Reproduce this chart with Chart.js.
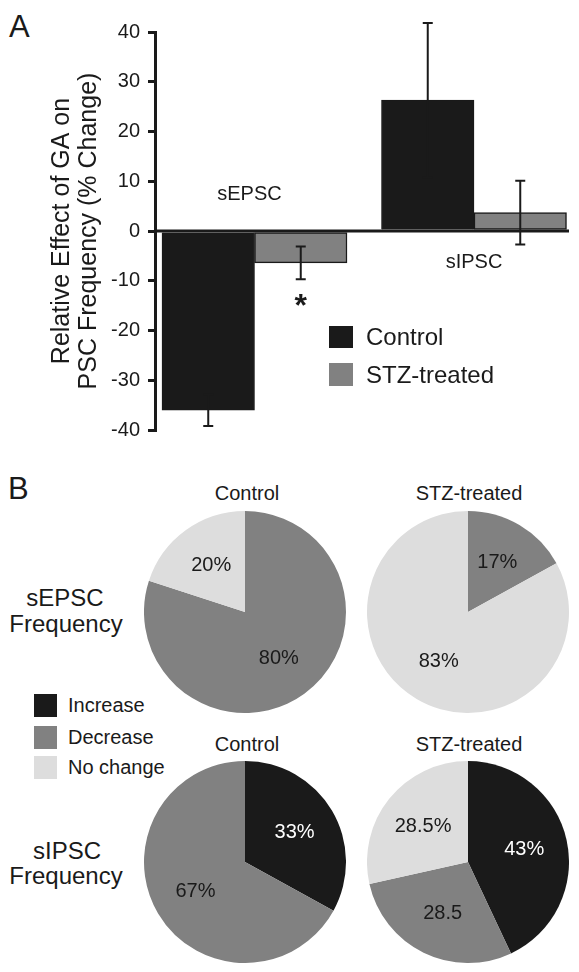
<!DOCTYPE html>
<html>
<head>
<meta charset="utf-8">
<script src="https://cdn.jsdelivr.net/npm/chart.js@4.4.1/dist/chart.umd.min.js"></script>
<style>
  body { margin: 0; background: #fff; }
  #fig { position: relative; width: 579px; height: 972px; overflow: hidden;
         font-family: 'Liberation Sans', Arial, sans-serif; color: #1a1a1a; }
  canvas { position: absolute; }
  /* t = centred on a point, l = left edge + vertical centre */
  .t { position: absolute; line-height: 1; white-space: nowrap; transform: translate(-50%, -50%); }
  .l { position: absolute; line-height: 1; white-space: nowrap; transform: translateY(-50%); }
  .sw { position: absolute; }
</style>
</head>
<body>
<div id="fig">
  <div class="l" style="left:9px; top:26px; font-size:31px;">A</div>
  <canvas id="bars" width="579" height="450" style="left:0; top:0;"></canvas>

  <!-- legend of panel A -->
  <div class="sw" style="left:329px; top:326px; width:24px; height:22px; background:#1a1a1a;"></div>
  <div class="l" style="left:366px; top:337px; font-size:24px;">Control</div>
  <div class="sw" style="left:329px; top:363px; width:24px; height:23px; background:#818181;"></div>
  <div class="l" style="left:366px; top:375px; font-size:24px;">STZ-treated</div>

  <div class="l" style="left:8px; top:488px; font-size:31px;">B</div>

  <div class="t" style="left:247px; top:493px; font-size:20px;">Control</div>
  <div class="t" style="left:469px; top:493px; font-size:20px;">STZ-treated</div>
  <div class="t" style="left:247px; top:744px; font-size:20px;">Control</div>
  <div class="t" style="left:469px; top:744px; font-size:20px;">STZ-treated</div>

  <div class="t" style="left:65px; top:598px; font-size:24px;">sEPSC</div>
  <div class="t" style="left:66px; top:624px; font-size:24px;">Frequency</div>
  <div class="t" style="left:67px; top:851px; font-size:24px;">sIPSC</div>
  <div class="t" style="left:66px; top:876px; font-size:24px;">Frequency</div>

  <!-- legend of panel B -->
  <div class="sw" style="left:34px; top:694px; width:23px; height:23px; background:#1a1a1a;"></div>
  <div class="l" style="left:68px; top:705px; font-size:20px;">Increase</div>
  <div class="sw" style="left:34px; top:726px; width:23px; height:23px; background:#818181;"></div>
  <div class="l" style="left:68px; top:737px; font-size:20px;">Decrease</div>
  <div class="sw" style="left:34px; top:756px; width:23px; height:23px; background:#dddddd;"></div>
  <div class="l" style="left:68px; top:767px; font-size:20px;">No change</div>

  <canvas id="pieEC" width="202" height="202" style="left:144px; top:511px;"></canvas>
  <canvas id="pieES" width="202" height="202" style="left:367px; top:511px;"></canvas>
  <canvas id="pieIC" width="202" height="202" style="left:144px; top:761px;"></canvas>
  <canvas id="pieIS" width="202" height="202" style="left:367px; top:761px;"></canvas>
</div>

<script>
// ---- panel A data ----
const categories = ['sEPSC', 'sIPSC'];
const controlValues = [-36, 26.3];
const controlErrors = [3.2, 15.5];
const stzValues = [-6.4, 3.7];
const stzErrors = [3.3, 6.4];
const stzMarks = ['*', ''];   // significance vs control

// ---- panel B data (order: Increase, Decrease, No change) ----
const pieSeries = ['Increase', 'Decrease', 'No change'];
const sEPSCControl = [0, 80, 20];
const sEPSCStz = [0, 17, 83];
const sIPSCControl = [33, 67, 0];
const sIPSCStz = [43, 28.5, 28.5];
const sEPSCControlText = ['', '80%', '20%'];
const sEPSCStzText = ['', '17%', '83%'];
const sIPSCControlText = ['33%', '67%', ''];
const sIPSCStzText = ['43%', '28.5', '28.5%'];

const INK = '#1a1a1a';
const GREY = '#818181';
const LIGHT = '#dddddd';
const FONT = "'Liberation Sans', Arial, sans-serif";

Chart.defaults.font.family = FONT;
Chart.defaults.color = INK;

// error bars, zero line and the text placed inside the plot
const barExtras = {
  id: 'barExtras',
  afterDatasetsDraw(chart) {
    const { ctx, chartArea } = chart;
    const y = chart.scales.y;
    ctx.save();

    // error bars
    ctx.strokeStyle = INK;
    ctx.lineWidth = 2;
    chart.data.datasets.forEach((ds, i) => {
      chart.getDatasetMeta(i).data.forEach((bar, j) => {
        const v = ds.data[j].y, e = ds.errors[j];
        const top = y.getPixelForValue(v + e);
        const bot = y.getPixelForValue(v - e);
        ctx.beginPath();
        ctx.moveTo(bar.x, top); ctx.lineTo(bar.x, bot);
        ctx.moveTo(bar.x - 5, top); ctx.lineTo(bar.x + 5, top);
        ctx.moveTo(bar.x - 5, bot); ctx.lineTo(bar.x + 5, bot);
        ctx.stroke();
      });
    });

    // zero line
    const zero = y.getPixelForValue(0);
    ctx.lineWidth = 3;
    ctx.beginPath();
    ctx.moveTo(chartArea.left, zero);
    ctx.lineTo(chartArea.right, zero);
    ctx.stroke();

    // category names: first above the zero line, second below it
    ctx.fillStyle = INK;
    ctx.font = '20px ' + FONT;
    ctx.textAlign = 'center';
    ctx.textBaseline = 'middle';
    const x = chart.scales.x;
    const offsets = [-37, 31];
    categories.forEach((c, i) => {
      const cx = x.getPixelForValue(i + 1) - (i === 0 ? 5 : 0);
      ctx.fillText(c, cx, zero + offsets[i]);
    });

    // significance marks under the STZ error bars
    ctx.font = 'bold 32px ' + FONT;
    ctx.textBaseline = 'alphabetic';
    const stzMeta = chart.getDatasetMeta(1);
    stzMarks.forEach((m, j) => {
      if (!m) return;
      const bot = y.getPixelForValue(stzValues[j] - stzErrors[j]);
      ctx.fillText(m, stzMeta.data[j].x, bot + 37);
    });
    ctx.restore();
  }
};

new Chart(document.getElementById('bars'), {
  type: 'bar',
  data: {
    datasets: [
      {
        label: 'Control',
        data: controlValues.map((v, i) => ({ x: i + 1, y: v })),
        errors: controlErrors,
        backgroundColor: INK,
        borderColor: INK,
        borderWidth: 1
      },
      {
        label: 'STZ-treated',
        data: stzValues.map((v, i) => ({ x: i + 1, y: v })),
        errors: stzErrors,
        backgroundColor: GREY,
        borderColor: INK,
        borderWidth: 1.5,
        borderSkipped: false
      }
    ]
  },
  options: {
    responsive: false,
    animation: false,
    barThickness: 92.5,
    layout: { padding: { top: 32, bottom: 15, left: 0, right: 10 } },
    plugins: { legend: { display: false }, tooltip: { enabled: false } },
    scales: {
      x: {
        type: 'linear',
        display: false,
        offset: false,
        grid: { offset: false },
        min: 0.5467,
        max: 2.4328,
        ticks: { stepSize: 1, includeBounds: false }
      },
      y: {
        min: -40,
        max: 40,
        ticks: { stepSize: 10, padding: 8, font: { size: 20 }, color: INK },
        grid: { drawOnChartArea: false, drawTicks: true, tickLength: 7, color: INK, lineWidth: 3 },
        border: { display: true, color: INK, width: 3 },
        title: {
          display: true,
          text: ['Relative Effect of GA on', 'PSC Frequency (% Change)'],
          font: { size: 25, lineHeight: 1.08 },
          color: INK,
          padding: { top: 49, bottom: 0 }
        },
        afterFit(scale) { scale.width = 155; }
      }
    }
  },
  plugins: [barExtras]
});

// percentage labels inside the pie slices
const pieLabels = {
  id: 'pieLabels',
  afterDatasetsDraw(chart, args, opts) {
    const { ctx } = chart;
    ctx.save();
    ctx.font = '20px ' + FONT;
    ctx.textAlign = 'center';
    ctx.textBaseline = 'middle';
    chart.getDatasetMeta(0).data.forEach((arc, i) => {
      const txt = opts.texts[i];
      if (!txt) return;
      const mid = (arc.startAngle + arc.endAngle) / 2;
      const r = arc.outerRadius * 0.57;
      ctx.fillStyle = i === 0 ? '#ffffff' : INK;
      ctx.fillText(txt, arc.x + Math.cos(mid) * r, arc.y + Math.sin(mid) * r);
    });
    ctx.restore();
  }
};

function drawPie(id, values, texts) {
  new Chart(document.getElementById(id), {
    type: 'pie',
    data: {
      labels: pieSeries,
      datasets: [{
        data: values,
        backgroundColor: [INK, GREY, LIGHT],
        borderWidth: 0
      }]
    },
    options: {
      responsive: false,
      animation: false,
      layout: { padding: 0 },
      plugins: {
        legend: { display: false },
        tooltip: { enabled: false },
        pieLabels: { texts }
      }
    },
    plugins: [pieLabels]
  });
}

drawPie('pieEC', sEPSCControl, sEPSCControlText);
drawPie('pieES', sEPSCStz, sEPSCStzText);
drawPie('pieIC', sIPSCControl, sIPSCControlText);
drawPie('pieIS', sIPSCStz, sIPSCStzText);
</script>
</body>
</html>
